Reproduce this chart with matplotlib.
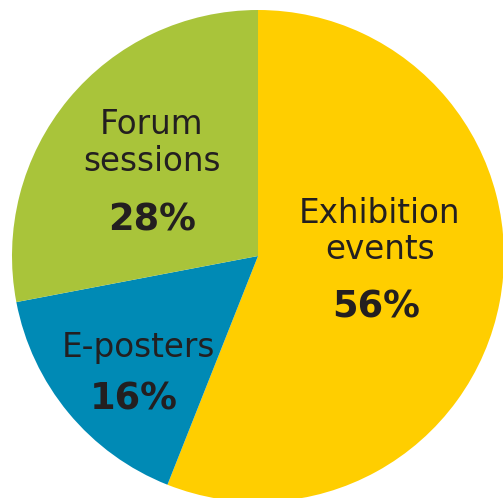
import matplotlib
matplotlib.use("Agg")
import matplotlib.pyplot as plt

# data
categories = ["Exhibition\nevents", "E-posters", "Forum\nsessions"]
shares = [56, 16, 28]
colors = ["#FFCE00", "#008AB5", "#A9C43A"]

# label placement (data units, pie radius = 1): name centre, percent centre
name_pos = [(0.495, 0.10), (-0.484, -0.37), (-0.431, 0.459)]
pct_pos = [(0.48, -0.207), (-0.504, -0.581), (-0.431, 0.146)]

W, H = 503, 498
cx, cy, r = 258, 256, 246  # pixel centre and radius of the pie

fig = plt.figure(figsize=(W / 100, H / 100), dpi=100)
ax = fig.add_axes([0, 0, 1, 1])

ax.pie(shares, colors=colors, startangle=90, counterclock=False,
       radius=1, wedgeprops=dict(linewidth=0))

ax.set_xlim(-cx / r, (W - cx) / r)
ax.set_ylim(-(H - cy) / r, cy / r)
ax.set_aspect("auto")
ax.axis("off")

txt = "#231F20"
for name, s, p1, p2 in zip(categories, shares, name_pos, pct_pos):
    ax.text(p1[0], p1[1], name, ha="center", va="center", fontsize=23.5,
            color=txt, linespacing=1.13, family="DejaVu Sans")
    ax.text(p2[0], p2[1], "{}%".format(s), ha="center", va="center",
            fontsize=26.5, color=txt, fontweight="bold", family="DejaVu Sans")

fig.savefig("out.png", dpi=100)
